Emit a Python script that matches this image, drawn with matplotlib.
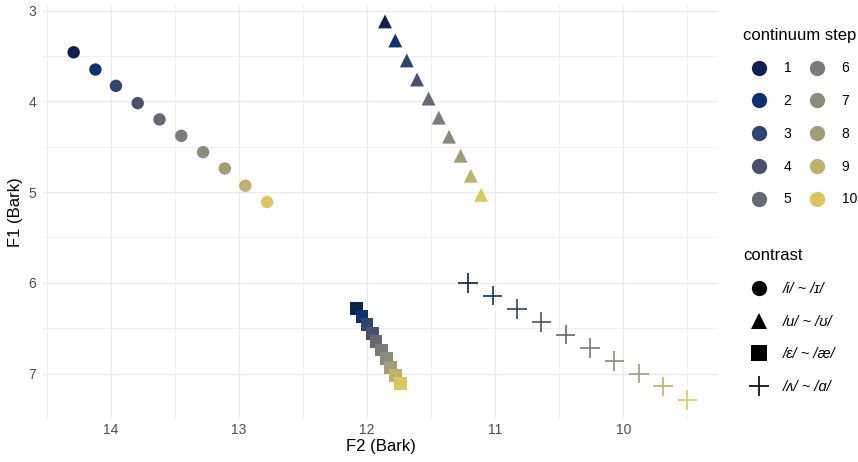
import matplotlib.pyplot as plt
from matplotlib.lines import Line2D

plt.rcParams["font.family"] = ["Liberation Sans", "DejaVu Sans"]

# continuum steps and colours
steps = ["1", "2", "3", "4", "5", "6", "7", "8", "9", "10"]
step_colors = ["#0e2150", "#0c3273", "#2f4470", "#4a5070", "#666873",
               "#7b7b7b", "#8c8a7a", "#a49b77", "#c0b26d", "#dcc75f"]

contrasts = ["/i/ ~ /ɪ/", "/u/ ~ /ʊ/", "/ɛ/ ~ /æ/", "/ʌ/ ~ /ɑ/"]

# F2 / F1 (Bark) per contrast, steps 1..10
f2_i = [14.29, 14.12, 13.96, 13.79, 13.62, 13.45, 13.28, 13.11, 12.95, 12.78]
f1_i = [3.46, 3.65, 3.83, 4.02, 4.20, 4.38, 4.56, 4.74, 4.93, 5.11]

f2_u = [11.86, 11.78, 11.69, 11.61, 11.52, 11.44, 11.36, 11.27, 11.19, 11.11]
f1_u = [3.12, 3.33, 3.55, 3.76, 3.97, 4.18, 4.39, 4.60, 4.82, 5.03]

f2_e = [12.08, 12.04, 12.00, 11.96, 11.93, 11.89, 11.85, 11.82, 11.78, 11.74]
f1_e = [6.28, 6.37, 6.46, 6.56, 6.65, 6.74, 6.83, 6.93, 7.02, 7.11]

f2_a = [11.21, 11.02, 10.83, 10.64, 10.45, 10.26, 10.07, 9.88, 9.69, 9.50]
f1_a = [6.00, 6.14, 6.29, 6.43, 6.57, 6.72, 6.86, 7.00, 7.14, 7.29]

fig = plt.figure(figsize=(8.58, 4.62), dpi=100)
ax = fig.add_axes([0.050, 0.093, 0.787, 0.896])

ax.scatter(f2_i, f1_i, c=step_colors, marker="o", s=80, linewidths=0, zorder=3)
ax.scatter(f2_u, f1_u, c=step_colors, marker="^", s=100, linewidths=0, zorder=3)
ax.scatter(f2_e, f1_e, c=step_colors, marker="s", s=85, linewidths=0, zorder=3)
ax.scatter(f2_a, f1_a, c=step_colors, marker="+", s=200, linewidths=1.2, zorder=3)

ax.set_xlim(14.53, 9.26)
ax.set_ylim(7.50, 2.94)
ax.set_xticks([14, 13, 12, 11, 10])
ax.set_yticks([3, 4, 5, 6, 7])
ax.set_xticks([14.5, 13.5, 12.5, 11.5, 10.5, 9.5], minor=True)
ax.set_yticks([3.5, 4.5, 5.5, 6.5, 7.5], minor=True)
ax.grid(True, which="major", color="#ebebeb", lw=1.0)
ax.grid(True, which="minor", color="#f0f0f0", lw=0.7)
ax.set_axisbelow(True)
ax.tick_params(which="both", length=0, labelsize=10, colors="#4d4d4d")
ax.tick_params(axis="x", pad=3)
ax.tick_params(axis="y", pad=5)
for s in ax.spines.values():
    s.set_visible(False)

ax.set_xlabel("F2 (Bark)", fontsize=12, labelpad=1)
ax.set_ylabel("F1 (Bark)", fontsize=12, labelpad=4)

# legends
step_handles = [Line2D([], [], ls="", marker="o", ms=11, mew=0, color=c)
                for c in step_colors]
leg1 = fig.legend(step_handles, steps, title="continuum step", ncol=2,
                  loc="upper left", bbox_to_anchor=(0.8575, 0.955),
                  frameon=False, fontsize=10, title_fontsize=12,
                  labelspacing=1.35, handletextpad=0.55, columnspacing=0.65,
                  borderpad=0, alignment="left", handlelength=2.4)

shape_handles = [Line2D([], [], ls="", marker=m, ms=ms, mew=mw, color="black")
                 for m, ms, mw in [("o", 11, 0), ("^", 12, 0), ("s", 11, 0), ("+", 15, 1.2)]]
leg2 = fig.legend(shape_handles, contrasts, title="contrast",
                  loc="upper left", bbox_to_anchor=(0.8575, 0.478),
                  frameon=False, title_fontsize=12,
                  labelspacing=1.28, handletextpad=0.5, borderpad=0,
                  alignment="left", handlelength=2.2,
                  prop={"size": 10.5, "style": "italic"})

plt.savefig("out.png", dpi=100)
